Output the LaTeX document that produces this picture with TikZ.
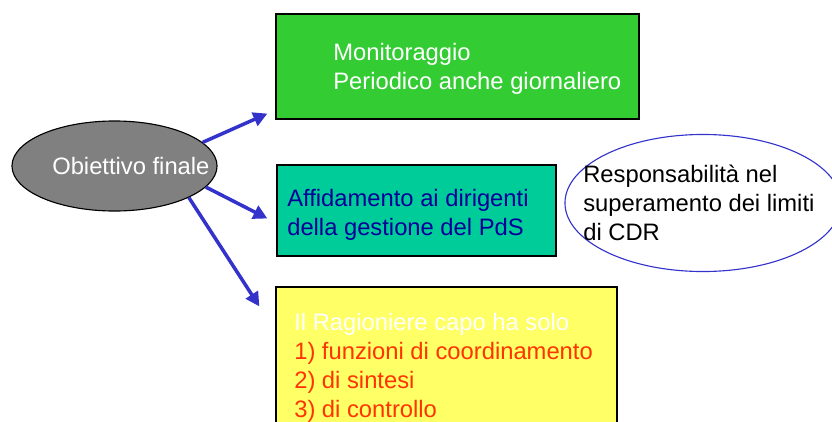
\documentclass[tikz,border=0pt]{standalone}
\usepackage{fontspec}
\setmainfont{Liberation Sans}
\usepackage{tikz}
\usepackage{xcolor}
\usetikzlibrary{arrows.meta, shapes.geometric, positioning}

\definecolor{boxgreen}{HTML}{33CC33}
\definecolor{boxteal}{HTML}{00CC99}
\definecolor{boxyellow}{HTML}{FFFF66}
\definecolor{arrowblue}{HTML}{3333CC}
\definecolor{textnavy}{HTML}{000099}
\definecolor{textred}{HTML}{FF3300}

\begin{document}
\begin{tikzpicture}[x=0.025cm, y=-0.025cm,
    box/.style={rectangle, draw=black, line width=0.8pt, inner sep=0pt},
    txt/.style={anchor=north west, inner sep=0pt, align=left, font=\fontsize{16.9}{20.6}\selectfont},
    link/.style={draw=arrowblue, line width=2.5pt, -{Triangle[length=10pt, width=10pt]}}]

    \useasboundingbox (0,0) rectangle (832,421);
    \clip (0,0) rectangle (832,421);

    \node[box, fill=boxgreen, minimum width=9.075cm, minimum height=2.625cm] (mon) at (457.5,66.5) {};
    \node[box, fill=boxteal, minimum width=6.975cm, minimum height=2.275cm] (dele) at (416.5,210.5) {};
    \node[box, fill=boxyellow, minimum width=8.525cm, minimum height=3.95cm] (rag) at (446.5,366) {};
    \node[ellipse, draw=black, line width=0.8pt, fill=gray, minimum width=5.125cm, minimum height=2.25cm, inner sep=0pt] (goal) at (114.5,166) {};
    \node[ellipse, draw=arrowblue, line width=0.8pt, minimum width=6.9cm, minimum height=3.425cm, inner sep=0pt] (resp) at (703,203) {};

    \node[txt, text=white] (montext) at (333,43) {Monitoraggio\\Periodico anche giornaliero};
    \node[txt, text=textnavy] (deletext) at (287,189) {Affidamento ai dirigenti\\della gestione del PdS};
    \node[txt, text=textred] (ragtext) at (294,313) {\textcolor{white}{Il Ragioniere capo ha solo}\\1) funzioni di coordinamento\\2) di sintesi\\3) di controllo};
    \node[txt, text=white] (goaltext) at (52,157) {Obiettivo finale};
    \node[txt, text=black] (resptext) at (583,165) {Responsabilità nel\\superamento dei limiti\\di CDR};

    \path[link] (goal.15) -- ([shift={(-8,-6)}]mon.south west);
    \path[link] (goal.-13) -- ([shift={(-9,8)}]dele.west);
    \path[link] (goal.-23) -- ([shift={(-16,20)}]rag.north west);

\end{tikzpicture}
\end{document}
